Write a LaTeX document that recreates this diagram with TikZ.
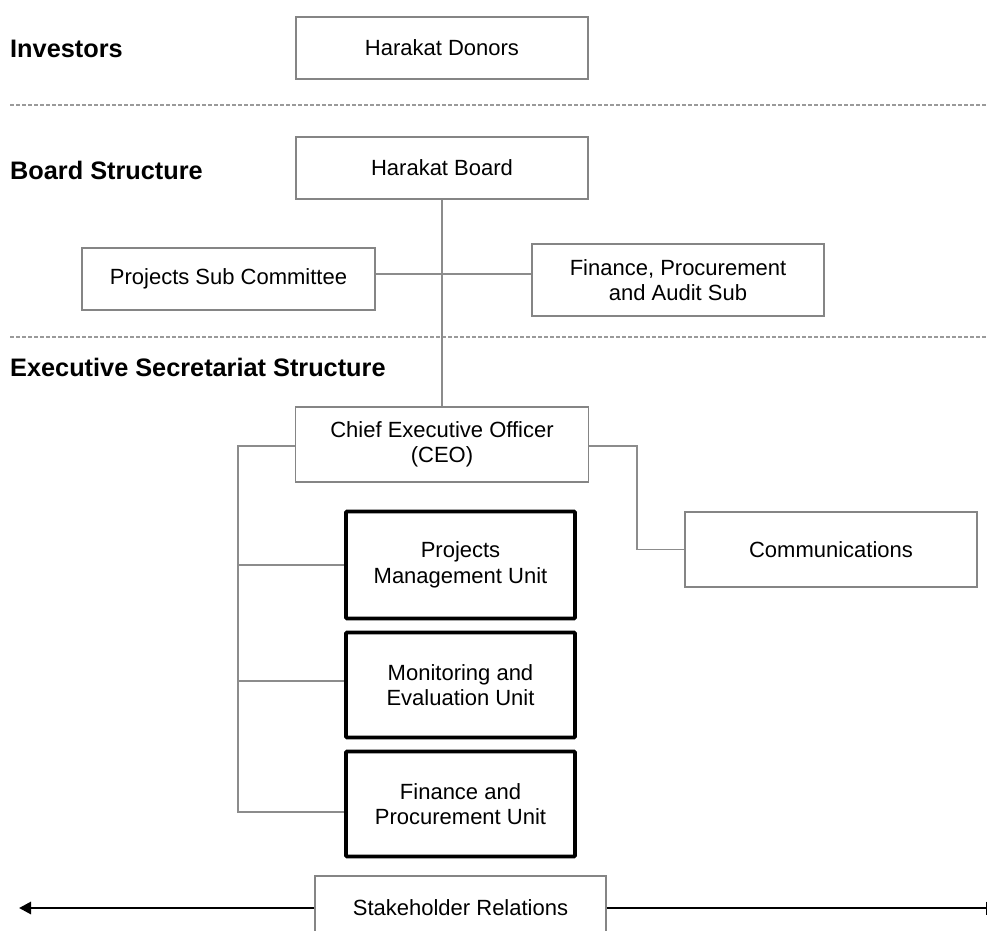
\documentclass[tikz,border=0pt]{standalone}
\usepackage{fontspec}
\setmainfont{Liberation Sans}
\usetikzlibrary{arrows.meta}
\definecolor{boxgray}{HTML}{858585}
\definecolor{linegray}{HTML}{8C8C8C}
\definecolor{dashgray}{HTML}{9A9A9A}
\begin{document}
\begin{tikzpicture}[x=1pt,y=-1pt,
  box/.style={draw=boxgray, line width=1.1pt, fill=white, align=center, inner sep=0pt,
    font=\fontsize{22}{25.5}\selectfont},
  thickbox/.style={draw=black, line width=3.6pt, fill=white, align=center, inner sep=0pt,
    rounded corners=1pt, font=\fontsize{22}{25.5}\selectfont},
  lbl/.style={anchor=west, inner sep=0pt, font=\bfseries\fontsize{25.3}{29}\selectfont},
  conn/.style={draw=linegray, line width=1.1pt},
  sep/.style={draw=dashgray, line width=1.1pt, dash pattern=on 4pt off 2pt},
  arr/.style={draw=black, line width=2.8pt}]
\useasboundingbox (0,0) rectangle (988,930);
\clip (0,0) rectangle (988,930);
% section labels
\node[lbl] (inv) at (10,49) {Investors};
\node[lbl] (bs) at (10,170) {Board Structure};
\node[lbl] (ess) at (10,367) {Executive Secretariat Structure};
% separators
\coordinate (d1a) at (10,105); \coordinate (d1b) at (988,105);
\coordinate (d2a) at (10,337); \coordinate (d2b) at (988,337);
\draw[sep] (d1a) -- (d1b);
\draw[sep] (d2a) -- (d2b);
% boxes
\node[box, minimum width=292pt, minimum height=62pt] (donors) at (442,48) {Harakat Donors};
\node[box, minimum width=292pt, minimum height=62pt] (board) at (442,168) {Harakat Board};
\node[box, minimum width=293pt, minimum height=62pt] (psc) at (228.5,279) {Projects Sub Committee};
\node[box, minimum width=292pt, minimum height=72pt] (fpa) at (678,280) {Finance, Procurement\\and Audit Sub};
\node[box, minimum width=293pt, minimum height=75pt] (ceo) at (442,444.5) {Chief Executive Officer\\(CEO)};
\node[box, minimum width=292pt, minimum height=75pt] (comm) at (831,549.5) {Communications};
\node[thickbox, minimum width=229pt, minimum height=107pt] (pmu) at (460.5,565) {Projects\\Management Unit};
\node[thickbox, minimum width=229pt, minimum height=105pt] (me) at (460.5,685) {Monitoring and\\Evaluation Unit};
\node[thickbox, minimum width=229pt, minimum height=105pt] (fpu) at (460.5,804) {Finance and\\Procurement Unit};
\node[box, minimum width=291pt, minimum height=64pt] (sr) at (460.5,908) {Stakeholder Relations};
% connectors
\coordinate (hy) at (0,274);
\coordinate (lb) at (238,446);
\coordinate (rb) at (637,446);
\coordinate (ypmu) at (0,565);
\coordinate (yme) at (0,681);
\coordinate (yfpu) at (0,812);
\coordinate (rl) at (19,908);
\coordinate (rr) at (987,908);
\draw[conn] (board.south) -- (ceo.north);
\draw[conn] (psc.east |- hy) -- (fpa.west |- hy);
\draw[conn] (ceo.west |- lb) -- (lb) -- (lb |- yfpu) -- (fpu.west |- yfpu);
\draw[conn] (lb |- ypmu) -- (pmu.west |- ypmu);
\draw[conn] (lb |- yme) -- (me.west |- yme);
\draw[conn] (ceo.east |- rb) -- (rb) -- (rb |- comm.west) -- (comm.west);
\draw[arr, -{Triangle[length=12pt,width=12pt]}] (sr.west) -- (rl);
\draw[arr, -{Bar[width=13pt,line width=1.5pt]}] (sr.east) -- (rr);
\end{tikzpicture}
\end{document}
